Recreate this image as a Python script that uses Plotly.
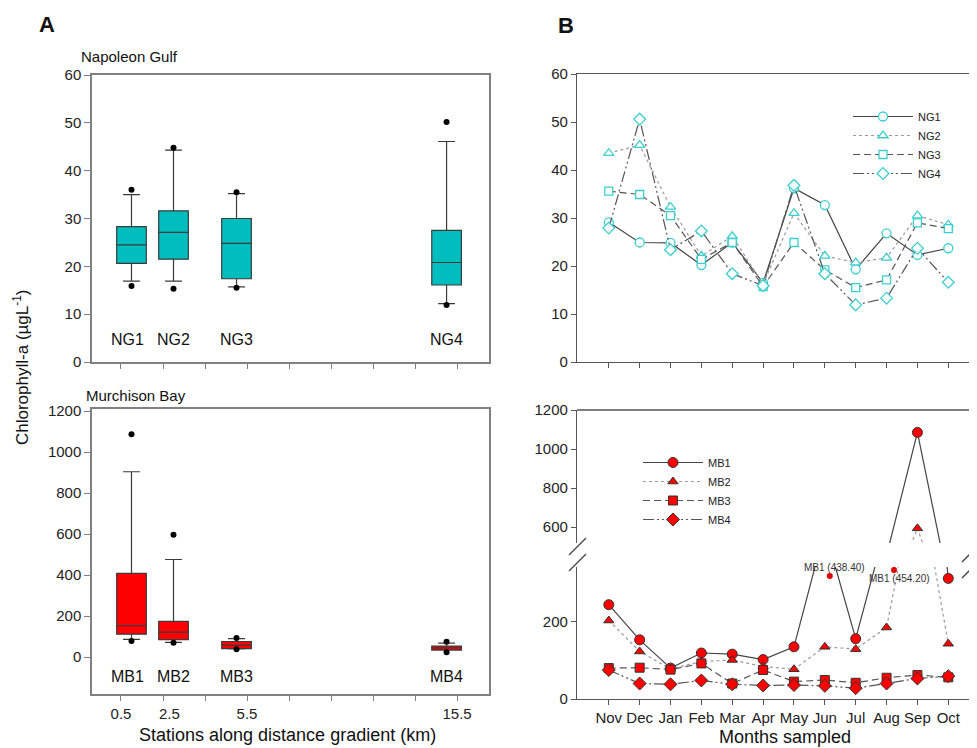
import plotly.graph_objects as go

# ---------------- data ----------------
stations_km = [0.5, 2.5, 5.5, 15.5]
ng_names = ["NG1", "NG2", "NG3", "NG4"]
mb_names = ["MB1", "MB2", "MB3", "MB4"]
km_tickvals = [0, 2, 4, 6, 8, 10, 12, 14, 16]
km_label_vals = [0, 2.3, 6, 16]
km_label_text = ["0.5", "2.5", "5.5", "15.5"]

ng_q1 = [20.6, 21.5, 17.4, 16.1]
ng_median = [24.5, 27.1, 24.8, 20.8]
ng_q3 = [28.3, 31.6, 30.0, 27.5]
ng_lower = [16.9, 16.9, 15.7, 12.2]
ng_upper = [35.0, 44.3, 35.2, 46.1]
ng_out_low = [15.9, 15.3, 15.5, 11.9]
ng_out_high = [36.0, 44.8, 35.5, 50.2]

mb_q1 = [112, 85, 41, 34]
mb_median = [153, 122, 57, 45]
mb_q3 = [408, 174, 76, 54]
mb_lower = [86, 72, 40, 34]
mb_upper = [904, 476, 90, 68]
mb_out_low = [78, 70, 38, 24]
mb_out_high = [1087, 597, 93, 75]

months = ["Nov", "Dec", "Jan", "Feb", "Mar", "Apr", "May", "Jun", "Jul", "Aug", "Sep", "Oct"]

ng1 = [29.1, 24.9, 24.8, 20.2, 24.9, 16.5, 36.2, 32.7, 19.3, 26.8, 22.3, 23.7]
ng2 = [43.5, 45.2, 32.3, 22.1, 26.2, 16.2, 31.0, 22.1, 20.7, 21.7, 30.5, 28.6]
ng3 = [35.6, 34.9, 30.5, 21.4, 24.9, 15.7, 24.9, 19.2, 15.5, 17.1, 29.0, 27.8]
ng4 = [27.9, 50.6, 23.4, 27.3, 18.4, 15.9, 36.8, 18.4, 11.9, 13.3, 23.7, 16.6]

mb1 = [244, 153, 80, 119, 116, 102, 135, 438.4, 156, 454.2, 1085, 312]
mb2 = [203, 123, 78, 97, 101, 84, 77, 135, 129, 185, 593, 143]
mb3 = [80, 81, 76, 92, 40, 75, 45, 49, 42, 55, 62, 56]
mb4 = [75, 40, 38, 48, 38, 35, 36, 34, 28, 40, 53, 59]

# ---------------- helpers ----------------
OFF = 8  # page body margin
W, H = 977 - OFF, 748 - OFF
FONT = "Liberation Sans, Arial, sans-serif"
TEAL = "#00BEBE"
CYAN = "#3CCFCF"
RED = "#FF0000"


def px(x):
    return (x - OFF) / W


def py(y):
    return 1 - (y - OFF) / H


fig = go.Figure()

# ---------------- panel A: box plots ----------------
fig.add_trace(go.Box(
    x=stations_km, q1=ng_q1, median=ng_median, q3=ng_q3,
    lowerfence=ng_lower, upperfence=ng_upper,
    width=1.41, whiskerwidth=0.57, boxpoints=False,
    fillcolor=TEAL, line=dict(color="#3a3a3a", width=1.2),
    xaxis="x", yaxis="y", showlegend=False))
fig.add_trace(go.Scatter(
    x=stations_km + stations_km, y=ng_out_low + ng_out_high, mode="markers",
    marker=dict(color="black", size=6), xaxis="x", yaxis="y", showlegend=False))

fig.add_trace(go.Box(
    x=stations_km, q1=mb_q1, median=mb_median, q3=mb_q3,
    lowerfence=mb_lower, upperfence=mb_upper,
    width=1.41, whiskerwidth=0.57, boxpoints=False,
    fillcolor=RED, line=dict(color="#3a3a3a", width=1.2),
    xaxis="x2", yaxis="y2", showlegend=False))
fig.add_trace(go.Scatter(
    x=stations_km + stations_km, y=mb_out_low + mb_out_high, mode="markers",
    marker=dict(color="black", size=6), xaxis="x2", yaxis="y2", showlegend=False))

# ---------------- panel B: lines ----------------
x_idx = list(range(len(months)))
ng_series = [ng1, ng2, ng3, ng4]
symbols = ["circle", "triangle-up", "square", "diamond"]
dashes = ["solid", "dot", "7px,4px", "11px,3px,2px,3px,2px,3px"]
line_cols = ["#444444", "#9a9a9a", "#555555", "#555555"]
ng_sizes = [9, 9, 8, 9]
for name, ys, sym, dsh, lc, sz in zip(ng_names, ng_series, symbols, dashes, line_cols, ng_sizes):
    fig.add_trace(go.Scatter(
        x=x_idx, y=ys, name=name, mode="lines+markers",
        line=dict(color=lc, width=1.2, dash=dsh),
        marker=dict(symbol=sym, size=sz, color="white", line=dict(color=CYAN, width=1.3)),
        xaxis="x3", yaxis="y3", legend="legend"))

mb_series = [mb1, mb2, mb3, mb4]
mb_sizes = [10, 9, 9, 10]
for name, ys, sym, dsh, lc, sz in zip(mb_names, mb_series, symbols, dashes, line_cols, mb_sizes):
    for yax, show in (("y4", True), ("y5", False)):
        fig.add_trace(go.Scatter(
            x=x_idx, y=ys, name=name, mode="lines+markers",
            line=dict(color=lc, width=1.2, dash=dsh),
            marker=dict(symbol=sym, size=sz, color=RED, line=dict(color="#333333", width=1)),
            xaxis="x4", yaxis=yax, legend="legend2", showlegend=show))

# off-scale value markers (Jun and Aug of MB1)
off_idx = [7, 9]
off_x = [i + d for i, d in zip(off_idx, [0.16, 0.24])]
off_y = [318, 334]
fig.add_trace(go.Scatter(
    x=off_x, y=off_y, mode="markers", marker=dict(color="#E00000", size=6),
    xaxis="x4", yaxis="y4", showlegend=False))

# ---------------- axes ----------------
left_dom = [px(92), px(489)]
right_dom = [px(577), 1.0]
tickfont = dict(family=FONT, size=15, color="#222")
GRAY = "#808080"
AX = "#555555"

common_left_x = dict(domain=left_dom, range=[-1.38, 17.52], tickvals=km_label_vals,
                     ticks="outside", ticklen=5, tickcolor="rgba(0,0,0,0)",
                     minor=dict(tickmode="array", tickvals=km_tickvals, ticks="outside",
                                ticklen=5, tickcolor=GRAY, tickwidth=1),
                     showline=True, mirror=True,
                     linecolor=GRAY, linewidth=1.5, showgrid=False, zeroline=False,
                     tickfont=tickfont)
common_left_y = dict(ticks="outside", ticklen=6, tickcolor=GRAY, showline=True, mirror=True,
                     linecolor=GRAY, linewidth=1.5, showgrid=False, zeroline=False,
                     tickfont=tickfont)

fig.update_layout(
    xaxis=dict(anchor="y", showticklabels=False, **common_left_x),
    yaxis=dict(anchor="x", domain=[py(362), py(75)], range=[0, 60], dtick=10, **common_left_y),
    xaxis2=dict(anchor="y2", ticktext=km_label_text, **common_left_x),
    yaxis2=dict(anchor="x2", domain=[py(694), py(409)], range=[-180, 1210],
                tickvals=[0, 200, 400, 600, 800, 1000, 1200], **common_left_y),
    xaxis3=dict(anchor="y3", domain=right_dom, range=[-1.03, 11.93], tickvals=x_idx,
                showticklabels=False, ticks="outside", ticklen=5, tickcolor=AX,
                showline=True, mirror=True, linecolor=AX, linewidth=1.3,
                showgrid=False, zeroline=False),
    yaxis3=dict(anchor="x3", domain=[py(362), py(74)], range=[0, 60], dtick=10,
                ticks="outside", ticklen=5, tickcolor=AX, showline=True, linecolor=AX,
                linewidth=1.3, showgrid=False, zeroline=False, tickfont=tickfont),
    xaxis4=dict(anchor="y4", domain=right_dom, range=[-1.03, 11.93], tickvals=x_idx,
                ticktext=months, ticks="outside", ticklen=5, tickcolor=AX,
                showline=True, linecolor=AX, linewidth=1.3, showgrid=False,
                zeroline=False, tickfont=tickfont),
    yaxis4=dict(anchor="x4", domain=[py(699), py(567)], range=[0, 341.5], tickvals=[0, 200],
                ticks="outside", ticklen=5, tickcolor=AX, showline=True, linecolor=AX,
                linewidth=1.3, showgrid=False, zeroline=False, tickfont=tickfont),
    yaxis5=dict(anchor="x4", domain=[py(543), py(410)], range=[518, 1200],
                tickvals=[600, 800, 1000, 1200],
                ticks="outside", ticklen=5, tickcolor=AX, showline=True, linecolor=AX,
                linewidth=1.3, showgrid=False, zeroline=False, tickfont=tickfont),
)

# ---------------- legends ----------------
leg_common = dict(xanchor="left", yanchor="top", bgcolor="rgba(0,0,0,0)",
                  font=dict(family=FONT, size=11, color="#222"), itemwidth=60,
                  borderwidth=0, tracegroupgap=0)
fig.update_layout(
    legend=dict(x=px(848), y=py(102), **leg_common),
    legend2=dict(x=px(638), y=py(448), **leg_common),
)

# ---------------- shapes: top frame of broken panel & break marks ----------------
shapes = [
    dict(type="line", xref="paper", yref="paper", x0=px(577), x1=1.0, y0=py(410), y1=py(410),
         line=dict(color=AX, width=1.3)),
]
for dy in (0, 16):
    shapes.append(dict(type="line", xref="paper", yref="paper",
                       x0=px(569), y0=py(555 + dy), x1=px(586), y1=py(538 + dy),
                       line=dict(color="#444", width=1.3)))
    shapes.append(dict(type="line", xref="paper", yref="paper",
                       x0=px(962), y0=py(562 + dy), x1=px(977), y1=py(547 + dy),
                       line=dict(color="#444", width=1.3)))
fig.update_layout(shapes=shapes)

# ---------------- annotations ----------------
ann = []


def txt(x, y, text, size=15, bold=False, xanchor="center", xref="paper", yref="paper", angle=0):
    ann.append(dict(x=x, y=y, xref=xref, yref=yref, text=("<b>%s</b>" % text) if bold else text,
                    showarrow=False, xanchor=xanchor, yanchor="middle", textangle=angle,
                    font=dict(family=FONT, size=size, color="#111")))


txt(px(47), py(24), "A", size=22, bold=True)
txt(px(566), py(26), "B", size=22, bold=True)
txt(px(79), py(57), "Napoleon Gulf", size=15, xanchor="left")
txt(px(84), py(395), "Murchison Bay", size=15, xanchor="left")
txt(px(21), py(367), "Chlorophyll-a (µgL<sup>-1</sup>)", size=17, angle=-90)
txt(px(287), py(735), "Stations along distance gradient (km)", size=18)
txt(px(785), py(737), "Months sampled", size=18)

for name, xs in zip(ng_names, stations_km):
    txt(xs - 0.2 if xs < 1 else xs, 4.8, name, size=16, xref="x", yref="y")
for name, xs in zip(mb_names, stations_km):
    txt(xs - 0.2 if xs < 1 else xs, -97, name, size=16, xref="x2", yref="y2")

ann.append(dict(x=off_x[0] + 0.15, y=off_y[0], yshift=9, xref="x4", yref="y4",
                text="MB1 (%.2f)" % mb1[off_idx[0]], showarrow=False,
                font=dict(family=FONT, size=10, color="#333")))
ann.append(dict(x=off_x[1] + 0.18, y=off_y[1], yshift=-9, xref="x4", yref="y4",
                text="MB1 (%.2f)" % mb1[off_idx[1]], showarrow=False,
                font=dict(family=FONT, size=10, color="#333")))
fig.update_layout(annotations=ann)

fig.update_layout(width=W, height=H,
                  margin=dict(l=0, r=0, t=0, b=0, pad=0, autoexpand=False),
                  paper_bgcolor="white", plot_bgcolor="white",
                  font=dict(family=FONT, color="#222"))

fig.write_html("out.html")
